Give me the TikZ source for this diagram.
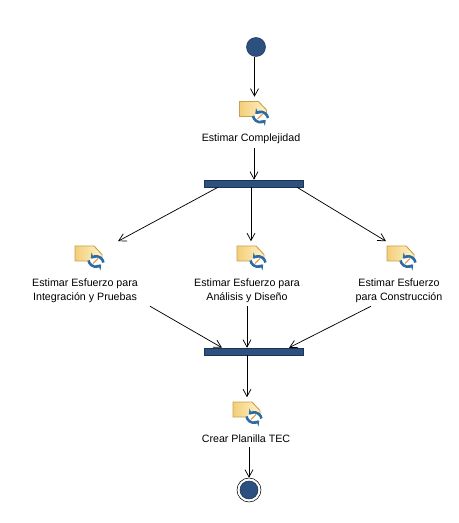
\documentclass[tikz,border=0pt]{standalone}
\usepackage{fontspec}
\setmainfont{Liberation Sans}
\usetikzlibrary{arrows.meta}
\definecolor{barblue}{HTML}{2C5080}
\definecolor{rimblue}{HTML}{1E3350}
\definecolor{turnblue}{HTML}{2B6CA6}
\definecolor{foldrim}{HTML}{C9A050}
\definecolor{foldleft}{HTML}{F3CE78}
\definecolor{foldright}{HTML}{FFF3C8}
\tikzset{
   activity/.pic={
      \draw[draw=foldrim, left color=foldleft, right color=foldright, line width=0.7pt]
         (-15,-9.5) -- (4,-9.5) -- (12,-1) -- (12,5.5) -- (-15,5.5) -- cycle;
      \fill[white] (6,6) circle (6);
      \draw[orange!80!brown, line width=0.6pt] (3,8) -- (8,3);
      \draw[turnblue, line width=1.9pt, -{Stealth[length=3.5pt,width=5.5pt]}] (-1.5,5) arc (170:45:7.5);
      \draw[turnblue, line width=1.9pt, -{Stealth[length=3.5pt,width=5.5pt]}] (13.5,7) arc (-10:-135:7.5);
   }
}
\begin{document}
\begin{tikzpicture}[x=0.75pt, y=-0.75pt,
   flow/.style ={draw, line width=0.55pt, -{Straight Barb[length=5.5pt,width=6pt]}},
   bar/.style ={rectangle, draw=rimblue, fill=barblue, inner sep=0pt, minimum width=74.5pt, minimum height=5.25pt},
   iconbox/.style ={rectangle, inner sep=0pt, minimum width=22.5pt, minimum height=21pt},
   caption/.style ={align=center, inner sep=0pt, font=\fontsize{8}{10.5}\selectfont}]
   \useasboundingbox (0,0) rectangle (458,523);

   \node[circle, draw=rimblue, fill=barblue, inner sep=0pt, minimum size=14.25pt] (start) at (256,47) {};
   \node[iconbox] (icoC) at (254.5,111) {};
   \node[caption] (labC) at (251,139) {Estimar Complejidad};
   \node[bar] (fork) at (254,183.5) {};

   \node[iconbox] (icoA) at (90,255.5) {};
   \node[iconbox] (icoB) at (252,255.5) {};
   \node[iconbox] (icoD) at (402,255.5) {};
   \node[caption] (labA) at (85,291) {Estimar Esfuerzo para\\Integración y Pruebas};
   \node[caption] (labB) at (247,291) {Estimar Esfuerzo para\\Análisis y Diseño};
   \node[caption] (labD) at (399,291) {Estimar Esfuerzo\\para Construcción};

   \node[bar] (join) at (254,351.5) {};
   \node[iconbox] (icoE) at (248,411.5) {};
   \node[caption] (labE) at (246,439) {Crear Planilla TEC};

   \node[circle, draw=black, fill=white, inner sep=0pt, minimum size=18pt] (end) at (249,490) {};
   \node[circle, draw=rimblue, fill=barblue, inner sep=0pt, minimum size=13.5pt] (endin) at (249,490) {};

   \pic at (icoC) {activity};
   \pic at (icoA) {activity};
   \pic at (icoB) {activity};
   \pic at (icoD) {activity};
   \pic at (icoE) {activity};

   \draw[flow] ([shift={(-1.5,0)}]start.south) to (icoC.north);
   \draw[flow] ([shift={(3,4)}]labC.south) to (fork.north);

   \draw[flow] ([shift={(-36,0)}]fork.south) to ([shift={(28,0)}]icoA.north);
   \draw[flow] ([shift={(-3,0)}]fork.south) to ([shift={(-1,0)}]icoB.north);
   \draw[flow] ([shift={(43,0)}]fork.south) to ([shift={(-16,0)}]icoD.north);

   \draw[flow] ([shift={(65,3)}]labA.south) to ([shift={(-32,0)}]join.north);
   \draw[flow] ([shift={(0,3)}]labB.south) to ([shift={(-7,0)}]join.north);
   \draw[flow] ([shift={(-28,3)}]labD.south) to ([shift={(35,0)}]join.north);

   \draw[flow] ([shift={(-7,0)}]join.south) to ([shift={(-1,0)}]icoE.north);
   \draw[flow] ([shift={(3,4)}]labE.south) to (end.north);
 \end{tikzpicture}
\end{document}
